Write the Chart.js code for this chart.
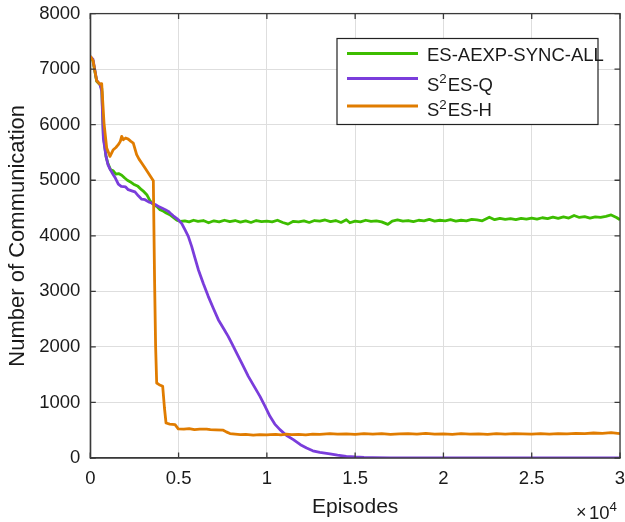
<!DOCTYPE html>
<html>
<head>
<meta charset="utf-8">
<script src="https://cdn.jsdelivr.net/npm/chart.js@4.4.1/dist/chart.umd.min.js"></script>
<style>
  html, body { margin: 0; padding: 0; background: #fff; }
</style>
</head>
<body>
<canvas id="chart" width="625" height="522"></canvas>
<script>
// episodes (x) and number of communication (y) for each curve
const syncEpisodes = [0, 150, 360, 550, 650, 740, 890, 1000, 1150, 1300, 1450, 1600, 1780, 1950, 2100, 2250, 2450, 2700, 2900, 3050, 3200, 3350, 3480, 3650, 3800, 3950, 4150, 4300, 4500, 4700, 4900, 5100, 5350, 5600, 5850, 6100, 6400, 6700, 7000, 7300, 7600, 7900, 8200, 8500, 8800, 9100, 9400, 9700, 10000, 10300, 10600, 10900, 11200, 11500, 11800, 12100, 12400, 12700, 13000, 13300, 13600, 13900, 14200, 14500, 14700, 15000, 15300, 15600, 15900, 16200, 16500, 16850, 17100, 17400, 17700, 18000, 18300, 18600, 18900, 19200, 19500, 19800, 20100, 20400, 20700, 21000, 21300, 21600, 21900, 22200, 22600, 22900, 23200, 23500, 23800, 24100, 24400, 24700, 25000, 25300, 25600, 25900, 26200, 26500, 26800, 27100, 27400, 27700, 28000, 28300, 28600, 28900, 29200, 29500, 29800, 30000]
const syncComm = [7230, 7150, 6780, 6720, 6650, 5800, 5430, 5300, 5190, 5170, 5110, 5120, 5090, 5040, 5000, 4975, 4930, 4890, 4830, 4790, 4740, 4650, 4590, 4550, 4520, 4470, 4440, 4410, 4380, 4330, 4280, 4260, 4270, 4250, 4280, 4260, 4275, 4235, 4270, 4250, 4280, 4255, 4275, 4245, 4270, 4240, 4275, 4255, 4265, 4250, 4280, 4240, 4210, 4260, 4250, 4270, 4240, 4275, 4265, 4285, 4255, 4275, 4240, 4290, 4235, 4265, 4250, 4280, 4260, 4270, 4250, 4205, 4265, 4285, 4265, 4275, 4255, 4280, 4270, 4295, 4265, 4280, 4270, 4290, 4265, 4280, 4270, 4295, 4285, 4270, 4335, 4290, 4315, 4295, 4310, 4290, 4315, 4300, 4320, 4300, 4325, 4310, 4335, 4315, 4340, 4320, 4365, 4330, 4345, 4320, 4340, 4330, 4350, 4375, 4330, 4290]

const quantEpisodes = [0, 150, 360, 550, 650, 740, 890, 1000, 1115, 1300, 1420, 1587, 1750, 2000, 2150, 2350, 2530, 2720, 2910, 3100, 3300, 3480, 3700, 3900, 4050, 4250, 4420, 4520, 4700, 4980, 5180, 5360, 5550, 5740, 5930, 6120, 6400, 6680, 6960, 7250, 7530, 7810, 8050, 8290, 8620, 8950, 9280, 9610, 9900, 10175, 10450, 10740, 11100, 11500, 11900, 12250, 12600, 13000, 13570, 14000, 14500, 15000, 15500, 16000, 17000, 18000, 20000, 30000]
const quantComm = [7230, 7180, 6800, 6720, 6600, 5750, 5430, 5280, 5200, 5100, 5040, 4930, 4890, 4880, 4830, 4810, 4790, 4720, 4660, 4650, 4610, 4590, 4560, 4520, 4500, 4470, 4440, 4410, 4360, 4290, 4220, 4110, 3990, 3810, 3600, 3390, 3140, 2910, 2700, 2490, 2340, 2190, 2040, 1890, 1680, 1470, 1290, 1110, 930, 750, 610, 510, 410, 330, 240, 180, 130, 100, 75, 50, 30, 18, 10, 6, 3, 2, 1, 0]

const hierEpisodes = [0, 150, 360, 550, 645, 776, 929, 1115, 1302, 1450, 1585, 1700, 1778, 1870, 2000, 2150, 2300, 2435, 2625, 2760, 2910, 3100, 3285, 3450, 3570, 3640, 3700, 3760, 3900, 4100, 4200, 4290, 4500, 4800, 4983, 5300, 5600, 5900, 6200, 6590, 6800, 7100, 7530, 7700, 7910, 8200, 8500, 8800, 9230, 9600, 10000, 10180, 10500, 10800, 11100, 11400, 11800, 12200, 12600, 13000, 13570, 14000, 14500, 15000, 15500, 16000, 16500, 17000, 17500, 18000, 18500, 19000, 19500, 20000, 20500, 21000, 21500, 22000, 22500, 23000, 23500, 24000, 24500, 25000, 25500, 26000, 26500, 27000, 27500, 28000, 28500, 29000, 29500, 30000]
const hierComm = [7230, 7160, 6790, 6730, 6740, 6030, 5580, 5430, 5550, 5590, 5640, 5700, 5790, 5730, 5760, 5740, 5700, 5670, 5460, 5380, 5310, 5220, 5130, 5050, 4990, 3200, 2000, 1350, 1320, 1290, 900, 630, 610, 600, 523, 520, 530, 510, 520, 520, 510, 505, 500, 470, 440, 430, 420, 425, 410, 420, 415, 420, 425, 415, 430, 420, 425, 415, 430, 425, 440, 430, 435, 425, 440, 430, 440, 425, 435, 440, 430, 445, 430, 435, 425, 440, 430, 435, 425, 440, 430, 440, 435, 430, 440, 430, 440, 435, 445, 440, 450, 445, 455, 440]

const seriesLabels = ['ES-AEXP-SYNC-ALL', 'S^2ES-Q', 'S^2ES-H']
const seriesColors = ['#3dbd00', '#7a3ddb', '#e07c00']

const xTicks = [0, 5000, 10000, 15000, 20000, 25000, 30000]
const yTicks = [0, 1000, 2000, 3000, 4000, 5000, 6000, 7000, 8000]

const FONT = '"Liberation Sans", Arial, Helvetica, sans-serif'
const AXIS = '#3a3a3a'
const TEXT = '#1a1a1a'

const toPoints = (xs, ys) => xs.map((x, i) => ({ x: x, y: ys[i] }))

// draw a label like "S^2ES-Q" with a raised small 2
function drawTex(ctx, str, x, y, size) {
  let parts = str.split(/(\^\d)/)
  ctx.textBaseline = 'alphabetic'
  ctx.textAlign = 'left'
  parts.forEach(p => {
    if (!p) return
    if (p[0] === '^') {
      ctx.font = `${size * 0.72}px ${FONT}`
      ctx.fillText(p.slice(1), x, y - size * 0.38)
      x += ctx.measureText(p.slice(1)).width + 1
    } else {
      ctx.font = `${size}px ${FONT}`
      ctx.fillText(p, x, y)
      x += ctx.measureText(p).width
    }
  })
}

// matlab style box, inward ticks, legend and the x10^4 note
const matlabBox = {
  id: 'matlabBox',
  afterDraw(chart) {
    const { ctx, chartArea: a, scales } = chart
    ctx.save()
    ctx.strokeStyle = AXIS
    ctx.lineWidth = 1.3
    ctx.strokeRect(a.left, a.top, a.right - a.left, a.bottom - a.top)

    const tl = 5.5
    ctx.beginPath()
    xTicks.forEach(v => {
      let px = scales.x.getPixelForValue(v)
      ctx.moveTo(px, a.bottom); ctx.lineTo(px, a.bottom - tl)
      ctx.moveTo(px, a.top); ctx.lineTo(px, a.top + tl)
    })
    yTicks.forEach(v => {
      let py = scales.y.getPixelForValue(v)
      ctx.moveTo(a.left, py); ctx.lineTo(a.left + tl, py)
      ctx.moveTo(a.right, py); ctx.lineTo(a.right - tl, py)
    })
    ctx.stroke()

    // legend
    ctx.fillStyle = '#fff'
    ctx.fillRect(337, 38.5, 261, 86)
    ctx.strokeStyle = '#222'
    ctx.lineWidth = 1.2
    ctx.strokeRect(337, 38.5, 261, 86)
    const lineY = [53.5, 78.5, 106]
    const textY = [60.5, 90.5, 116]
    seriesLabels.forEach((lab, i) => {
      ctx.strokeStyle = seriesColors[i]
      ctx.lineWidth = 3
      ctx.beginPath()
      ctx.moveTo(347, lineY[i]); ctx.lineTo(418, lineY[i])
      ctx.stroke()
      ctx.fillStyle = TEXT
      drawTex(ctx, lab, 427, textY[i], 18.5)
    })

    // exponent of the x axis
    ctx.fillStyle = TEXT
    ctx.font = `18px ${FONT}`
    ctx.textAlign = 'left'
    ctx.textBaseline = 'alphabetic'
    ctx.fillText('\u00d7', 576, 518)
    drawTex(ctx, '10^4', 589, 518.5, 18.5)
    ctx.restore()
  }
}

const ctx = document.getElementById('chart').getContext('2d')

new Chart(ctx, {
  type: 'line',
  data: {
    datasets: [
      { label: seriesLabels[0], data: toPoints(syncEpisodes, syncComm), borderColor: seriesColors[0], order: 3 },
      { label: seriesLabels[1], data: toPoints(quantEpisodes, quantComm), borderColor: seriesColors[1], order: 2 },
      { label: seriesLabels[2], data: toPoints(hierEpisodes, hierComm), borderColor: seriesColors[2], order: 1 }
    ].map(d => Object.assign(d, { borderWidth: 2.8, pointRadius: 0, tension: 0, fill: false, borderJoinStyle: 'round' }))
  },
  options: {
    responsive: false,
    animation: false,
    layout: { padding: { top: 13.6, right: 5, left: 0, bottom: 0 } },
    plugins: {
      legend: { display: false },
      tooltip: { enabled: false }
    },
    scales: {
      x: {
        type: 'linear',
        min: 0,
        max: 30000,
        afterBuildTicks: s => { s.ticks = xTicks.map(v => ({ value: v })) },
        afterFit: s => { s.height = 64; s.paddingLeft = 0; s.paddingRight = 0 },
        ticks: {
          callback: v => String(v / 10000),
          font: { family: FONT, size: 18.5 },
          color: TEXT,
          padding: 10,
          maxRotation: 0
        },
        grid: { color: '#dedede', lineWidth: 1, drawTicks: false },
        border: { color: AXIS, width: 1.3 },
        title: { display: true, text: 'Episodes', font: { family: FONT, size: 21 }, color: TEXT, padding: { top: 0, bottom: 2 } }
      },
      y: {
        min: 0,
        max: 8000,
        afterBuildTicks: s => { s.ticks = yTicks.map(v => ({ value: v })) },
        afterFit: s => { s.width = 90.3; s.paddingTop = 0; s.paddingBottom = 0 },
        ticks: {
          callback: v => String(v),
          font: { family: FONT, size: 18.5 },
          color: TEXT,
          padding: 10
        },
        grid: { color: '#dedede', lineWidth: 1, drawTicks: false },
        border: { color: AXIS, width: 1.3 },
        title: { display: true, text: 'Number of Communication', font: { family: FONT, size: 22 }, color: TEXT, padding: { top: 5, bottom: 0 } }
      }
    }
  },
  plugins: [matlabBox]
})
</script>
</body>
</html>
